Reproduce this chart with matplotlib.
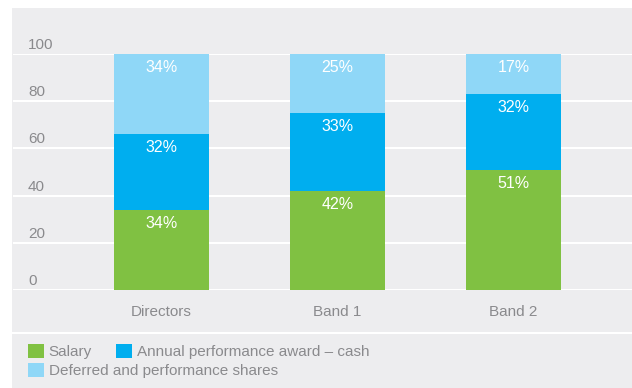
import matplotlib
matplotlib.use("Agg")
import matplotlib.pyplot as plt
from matplotlib.patches import Rectangle
from matplotlib.lines import Line2D
import numpy as np

plt.rcParams['font.family'] = ['Liberation Sans', 'DejaVu Sans']

categories = ["Directors", "Band 1", "Band 2"]
salary = [34, 42, 51]
annual_cash = [32, 33, 32]
deferred_shares = [34, 25, 17]
series_names = ["Salary", "Annual performance award \u2013 cash",
                "Deferred and performance shares"]
y_ticks = [0, 20, 40, 60, 80, 100]

colors = ["#80c142", "#00aeef", "#8fd7f7"]
bg = "#ededef"
text_gray = "#8a8a8d"

W, H = 632, 388
fig = plt.figure(figsize=(W / 100, H / 100), dpi=100)
fig.patch.set_facecolor("white")

def fx(px):
    return px / W

def fy(py):
    return 1 - py / H

# grey panel behind everything
fig.add_artist(Rectangle((fx(12), 0), 1 - fx(12), fy(8), transform=fig.transFigure,
                         facecolor=bg, edgecolor="none", zorder=0))

ax = fig.add_axes([fx(13), fy(290), 1 - fx(13), fy(54) - fy(290)])
ax.set_facecolor("none")
for s in ax.spines.values():
    s.set_visible(False)

x = np.arange(len(categories))
width = 0.54
stacks = [salary, annual_cash, deferred_shares]
bottom = np.zeros(len(categories))
containers = []
for vals, col, name in zip(stacks, colors, series_names):
    bc = ax.bar(x, vals, width, bottom=bottom, color=col, label=name, zorder=3)
    containers.append(bc)
    for xi, b, v in zip(x, bottom, vals):
        ax.annotate(f"{v}%", (xi, b + v), xytext=(0, -13.5), textcoords="offset pixels",
                    ha="center", va="center", color="white", fontsize=11.5, zorder=4)
    bottom = bottom + np.array(vals)

ax.set_xlim(-0.844, 2.673)
ax.set_ylim(0, 100)
ax.set_yticks(y_ticks)
ax.set_yticklabels([])
ax.tick_params(axis="y", length=0)
ax.grid(axis="y", color="white", linewidth=1.5, zorder=1)
ax.set_axisbelow(True)
ax.set_xticks(x)
ax.set_xticklabels(categories, color=text_gray, fontsize=11)
ax.tick_params(axis="x", length=0, pad=11)

# value labels sitting above each gridline
ytrans = ax.get_yaxis_transform()
for t in y_ticks:
    ax.annotate(str(t), (fx(28 - 13) / (1 - fx(13)), t), xycoords=ytrans,
                xytext=(0, 5), textcoords="offset pixels",
                ha="left", va="baseline", color=text_gray, fontsize=11, annotation_clip=False)

# separator between chart and key
fig.add_artist(Line2D([fx(12), 1], [fy(333), fy(333)], transform=fig.transFigure,
                      color="white", linewidth=1.5))

leg_kw = dict(frameon=False, fontsize=11, handlelength=1.05, handleheight=1.05,
              handletextpad=0.3, borderpad=0, borderaxespad=0, labelcolor=text_gray,
              loc="upper left")
leg1 = fig.legend(handles=containers[:2], labels=series_names[:2], ncol=2,
                  columnspacing=1.6, bbox_to_anchor=(fx(28), fy(344)), **leg_kw)
leg2 = fig.legend(handles=containers[2:], labels=series_names[2:], ncol=1,
                  bbox_to_anchor=(fx(28), fy(363)), **leg_kw)

fig.savefig("out.png", dpi=100, facecolor=fig.get_facecolor())
